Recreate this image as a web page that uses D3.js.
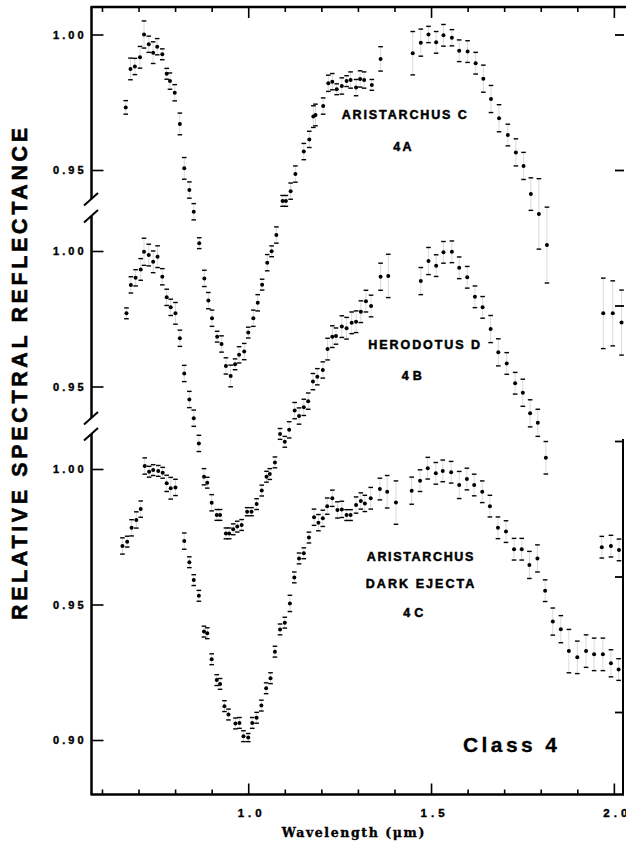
<!DOCTYPE html>
<html>
<head>
<meta charset="utf-8">
<script src="https://cdn.jsdelivr.net/npm/d3@7"></script>
<style>
  html, body { margin: 0; padding: 0; background: #fff; }
  svg { display: block; }
</style>
</head>
<body>
<svg id="chart" width="626" height="847"></svg>
<script>
// Relative spectral reflectance, class 4 spectra.
// Each row: [wavelength (µm), relative reflectance, 1-sigma error]
const aristarchusC = [
  [0.665, 0.9731, 0.0025], [0.678, 0.9873, 0.004], [0.690, 0.9882, 0.003], [0.704, 0.9916, 0.004],
  [0.715, 1.0000, 0.005], [0.728, 0.9964, 0.003], [0.740, 0.9933, 0.004], [0.751, 0.9955, 0.003],
  [0.765, 0.9927, 0.002], [0.777, 0.9855, 0.002], [0.786, 0.9828, 0.003], [0.799, 0.9785, 0.003],
  [0.813, 0.9670, 0.004], [0.825, 0.9506, 0.004], [0.839, 0.9426, 0.003], [0.851, 0.9346, 0.003],
  [0.866, 0.9230, 0.002], [0.880, 0.9100, 0.003], [0.891, 0.9018, 0.003], [0.901, 0.8953, 0.003],
  [0.915, 0.8885, 0.002], [0.927, 0.8858, 0.003], [0.939, 0.8777, 0.003], [0.952, 0.8740, 0.004],
  [0.964, 0.8783, 0.002], [0.975, 0.8818, 0.003], [0.989, 0.8830, 0.003], [1.000, 0.8900, 0.002],
  [1.014, 0.8953, 0.003], [1.026, 0.9010, 0.003], [1.038, 0.9077, 0.002], [1.052, 0.9158, 0.003],
  [1.064, 0.9200, 0.002], [1.077, 0.9260, 0.003], [1.094, 0.9386, 0.002], [1.103, 0.9386, 0.002],
  [1.116, 0.9422, 0.003], [1.129, 0.9485, 0.003], [1.152, 0.9568, 0.003], [1.167, 0.9613, 0.003],
  [1.178, 0.9697, 0.004], [1.184, 0.9703, 0.004], [1.205, 0.9736, 0.003], [1.219, 0.9820, 0.003],
  [1.230, 0.9826, 0.003], [1.242, 0.9798, 0.002], [1.256, 0.9810, 0.003], [1.269, 0.9828, 0.002],
  [1.280, 0.9832, 0.003], [1.295, 0.9804, 0.003], [1.306, 0.9836, 0.003], [1.317, 0.9832, 0.003],
  [1.338, 0.9814, 0.002], [1.362, 0.9910, 0.0045], [1.450, 0.9931, 0.008], [1.472, 0.9970, 0.005],
  [1.493, 1.0000, 0.003], [1.514, 0.9971, 0.004], [1.534, 0.9997, 0.004], [1.557, 0.9988, 0.003],
  [1.577, 0.9940, 0.004], [1.600, 0.9937, 0.004], [1.622, 0.9894, 0.004], [1.643, 0.9837, 0.005],
  [1.664, 0.9762, 0.005], [1.686, 0.9691, 0.005], [1.710, 0.9629, 0.004], [1.732, 0.9565, 0.005],
  [1.753, 0.9515, 0.005], [1.773, 0.9411, 0.006], [1.795, 0.9338, 0.013], [1.817, 0.9223, 0.014],
  [1.971, 0.8971, 0.013], [1.997, 0.8971, 0.012], [2.021, 0.8937, 0.012]
];

const herodotusD = [
  [0.667, 0.9770, 0.002], [0.679, 0.9875, 0.003], [0.692, 0.9901, 0.003], [0.706, 0.9932, 0.004],
  [0.715, 0.9997, 0.005], [0.728, 0.9985, 0.004], [0.740, 0.9960, 0.004], [0.752, 0.9979, 0.004],
  [0.765, 0.9905, 0.003], [0.777, 0.9829, 0.003], [0.788, 0.9792, 0.003], [0.801, 0.9770, 0.004],
  [0.813, 0.9678, 0.003], [0.825, 0.9548, 0.003], [0.839, 0.9452, 0.003], [0.851, 0.9383, 0.003],
  [0.865, 0.9290, 0.003], [0.879, 0.9167, 0.003], [0.888, 0.9145, 0.002], [0.900, 0.9071, 0.003],
  [0.914, 0.9026, 0.002], [0.923, 0.9026, 0.002], [0.939, 0.8958, 0.002], [0.948, 0.8958, 0.002],
  [0.959, 0.8973, 0.002], [0.970, 0.8983, 0.002], [0.982, 0.8989, 0.002], [0.997, 0.9038, 0.0015],
  [1.009, 0.9038, 0.0015], [1.023, 0.9066, 0.002], [1.037, 0.9116, 0.002], [1.050, 0.9167, 0.002],
  [1.059, 0.9177, 0.002], [1.073, 0.9220, 0.002], [1.087, 0.9325, 0.002], [1.100, 0.9296, 0.002],
  [1.112, 0.9340, 0.003], [1.127, 0.9411, 0.003], [1.139, 0.9391, 0.003], [1.152, 0.9423, 0.003],
  [1.164, 0.9446, 0.003], [1.177, 0.9518, 0.003], [1.189, 0.9536, 0.003], [1.204, 0.9561, 0.003],
  [1.217, 0.9638, 0.004], [1.230, 0.9684, 0.004], [1.240, 0.9686, 0.003], [1.256, 0.9721, 0.004],
  [1.269, 0.9715, 0.004], [1.283, 0.9735, 0.004], [1.295, 0.9739, 0.004], [1.308, 0.9776, 0.004],
  [1.322, 0.9815, 0.004], [1.336, 0.9797, 0.004], [1.362, 0.9905, 0.005], [1.383, 0.9908, 0.008],
  [1.472, 0.9889, 0.005], [1.493, 0.9963, 0.005], [1.514, 0.9946, 0.004], [1.534, 0.9995, 0.004],
  [1.557, 0.9997, 0.004], [1.577, 0.9938, 0.004], [1.599, 0.9903, 0.004], [1.620, 0.9831, 0.004],
  [1.641, 0.9792, 0.004], [1.663, 0.9712, 0.005], [1.684, 0.9626, 0.005], [1.707, 0.9585, 0.004],
  [1.730, 0.9512, 0.004], [1.751, 0.9477, 0.005], [1.771, 0.9401, 0.005], [1.792, 0.9366, 0.005],
  [1.814, 0.9237, 0.006], [1.967, 0.8907, 0.004], [1.992, 0.8911, 0.004], [2.014, 0.8897, 0.004]
];

const aristarchusDarkEjecta = [
  [0.656, 0.9716, 0.003], [0.669, 0.9732, 0.002], [0.681, 0.9783, 0.003], [0.694, 0.9812, 0.003],
  [0.706, 0.9852, 0.003], [0.717, 1.0011, 0.003], [0.729, 0.9990, 0.002], [0.740, 0.9996, 0.002],
  [0.754, 0.9993, 0.002], [0.766, 0.9986, 0.002], [0.777, 0.9947, 0.003], [0.788, 0.9929, 0.004],
  [0.801, 0.9932, 0.003], [0.825, 0.9734, 0.003], [0.839, 0.9656, 0.002], [0.851, 0.9590, 0.002],
  [0.865, 0.9532, 0.002], [0.879, 0.9400, 0.002], [0.888, 0.9394, 0.002], [0.900, 0.9298, 0.002],
  [0.914, 0.9221, 0.002], [0.923, 0.9207, 0.002], [0.935, 0.9125, 0.002], [0.946, 0.9094, 0.002],
  [0.965, 0.9061, 0.002], [0.976, 0.9063, 0.002], [0.987, 0.9014, 0.002], [1.000, 0.9009, 0.0015],
  [1.011, 0.9063, 0.002], [1.023, 0.9082, 0.002], [1.036, 0.9127, 0.002], [1.049, 0.9191, 0.002],
  [1.061, 0.9228, 0.002], [1.073, 0.9326, 0.002], [1.087, 0.9408, 0.002], [1.100, 0.9433, 0.002],
  [1.114, 0.9504, 0.003], [1.126, 0.9600, 0.002], [1.139, 0.9670, 0.002], [1.152, 0.9689, 0.002],
  [1.166, 0.9747, 0.002], [1.180, 0.9822, 0.003], [1.192, 0.9802, 0.003], [1.204, 0.9818, 0.003],
  [1.216, 0.9863, 0.003], [1.230, 0.9892, 0.003], [1.244, 0.9849, 0.003], [1.256, 0.9851, 0.003],
  [1.269, 0.9830, 0.002], [1.280, 0.9830, 0.002], [1.295, 0.9867, 0.003], [1.308, 0.9882, 0.003],
  [1.319, 0.9873, 0.003], [1.335, 0.9892, 0.004], [1.360, 0.9926, 0.004], [1.380, 0.9916, 0.006],
  [1.404, 0.9876, 0.008], [1.447, 0.9920, 0.005], [1.470, 0.9957, 0.004], [1.491, 1.0003, 0.004],
  [1.513, 0.9984, 0.004], [1.532, 0.9993, 0.004], [1.555, 0.9988, 0.004], [1.577, 0.9941, 0.005],
  [1.598, 0.9963, 0.004], [1.618, 0.9941, 0.004], [1.640, 0.9916, 0.004], [1.661, 0.9863, 0.004],
  [1.683, 0.9783, 0.004], [1.705, 0.9769, 0.004], [1.727, 0.9704, 0.004], [1.748, 0.9704, 0.004],
  [1.769, 0.9646, 0.005], [1.791, 0.9670, 0.005], [1.812, 0.9551, 0.004], [1.833, 0.9437, 0.005],
  [1.855, 0.9409, 0.005], [1.877, 0.9328, 0.008], [1.900, 0.9305, 0.006], [1.924, 0.9328, 0.006],
  [1.946, 0.9316, 0.006], [1.970, 0.9316, 0.006], [1.992, 0.9283, 0.005], [2.013, 0.9260, 0.004]
];

const xMajorTicks = [1.0, 1.5, 2.0];
const xMinorTicks = [0.6, 0.7, 0.8, 0.9, 1.1, 1.2, 1.3, 1.4, 1.6, 1.7, 1.8, 1.9];
const yTickSteps = [1.02, 1.01, 1.00, 0.99, 0.98, 0.97, 0.96, 0.95, 0.94, 0.93, 0.92, 0.91,
                    0.90, 0.89, 0.88, 0.87, 0.86, 0.85, 0.84, 0.83, 0.82, 0.81, 0.80,
                    0.79, 0.78, 0.77, 0.76, 0.75, 0.74, 0.73];
const labelsA = ["1.00", "0.95"];
const labelsB = ["1.00", "0.95"];
const labelsC = ["1.00", "0.95", "0.90"];

// ---- layout ----
const svg = d3.select("#chart");
const frameL = 91.5, frameR = 623, frameT = 7, frameB = 794.5;
const sans = "'Liberation Sans', Arial, Helvetica, sans-serif";

const x = d3.scaleLinear().domain([0.57, 2.025]).range([91, 623]);

// one reflectance scale per stacked spectrum, all with the same units per pixel
const stacked = y100 => d3.scaleLinear().domain([1.0, 0.9]).range([y100, y100 + 271]);
const yA = stacked(34.5), yB = stacked(251), yC = stacked(469);

const panels = [
  { data: aristarchusC, y: yA, seg: [frameT, 199], labels: labelsA },
  { data: herodotusD, y: yB, seg: [216, 418], labels: labelsB },
  { data: aristarchusDarkEjecta, y: yC, seg: [434, frameB], labels: labelsC }
];

const isMajor = v => Math.round(v * 100) % 5 === 0;

// ---- frame ----
const frame = svg.append("g").attr("stroke", "#000").attr("fill", "none");
frame.append("line").attr("x1", frameL - 1).attr("x2", 626).attr("y1", frameT).attr("y2", frameT).attr("stroke-width", 2.5);
frame.append("line").attr("x1", frameL - 1).attr("x2", frameR + 1).attr("y1", frameB).attr("y2", frameB).attr("stroke-width", 2.5);
frame.append("line").attr("x1", frameR).attr("x2", frameR).attr("y1", 439).attr("y2", frameB).attr("stroke-width", 2);

// bottom axis ticks (pointing up) and top axis ticks (pointing down)
const drawXTicks = (vals, size) => {
  svg.append("g").attr("transform", `translate(0,${frameB})`)
    .call(d3.axisTop(x).tickValues(vals).tickSize(size).tickFormat(""))
    .call(g => g.select(".domain").remove())
    .call(g => g.selectAll("line").attr("stroke-width", 1.6));
  svg.append("g").attr("transform", `translate(0,${frameT})`)
    .call(d3.axisBottom(x).tickValues(vals).tickSize(size).tickFormat(""))
    .call(g => g.select(".domain").remove())
    .call(g => g.selectAll("line").attr("stroke-width", 1.6));
};
drawXTicks(xMinorTicks, 5);
drawXTicks(xMajorTicks, 11);

// x tick labels
svg.append("g").selectAll("text").data(xMajorTicks).join("text")
  .attr("x", d => x(d) + 1.5).attr("y", 816.5)
  .attr("text-anchor", "middle")
  .attr("font-family", sans).attr("font-weight", "bold").attr("font-size", 11.5)
  .attr("stroke", "#000").attr("stroke-width", 0.4)
  .attr("textLength", 24).attr("lengthAdjust", "spacing")
  .text(d => d3.format(".1f")(d));

// left axis: one segment per spectrum with its own ticks
panels.forEach(p => {
  const [s0, s1] = p.seg;
  svg.append("line").attr("x1", frameL).attr("x2", frameL).attr("y1", s0).attr("y2", s1)
    .attr("stroke", "#000").attr("stroke-width", 2.5);
  const inSeg = yTickSteps.filter(v => p.y(v) >= s0 + 3 && p.y(v) <= s1 - 1);
  const g = svg.append("g").attr("transform", `translate(${frameL},0)`);
  g.call(d3.axisRight(p.y).tickValues(inSeg.filter(v => !isMajor(v))).tickSize(6).tickFormat(""));
  g.call(d3.axisRight(p.y).tickValues(inSeg.filter(isMajor)).tickSize(12).tickFormat(""));
  g.selectAll(".domain").remove();
  g.selectAll("line").attr("stroke-width", 1.6);
  svg.append("g").selectAll("text").data(p.labels).join("text")
    .attr("x", 83.5).attr("y", d => p.y(+d) + 4)
    .attr("text-anchor", "end")
    .attr("font-family", sans).attr("font-weight", "bold").attr("font-size", 11)
    .attr("stroke", "#000").attr("stroke-width", 0.4)
    .attr("textLength", 30.5).attr("lengthAdjust", "spacing")
    .text(d => d);
});

// axis breaks
[199, 216, 418, 434].forEach(yb => {
  svg.append("line").attr("x1", frameL - 7.5).attr("y1", yb + 6.5)
    .attr("x2", frameL + 6.5).attr("y2", yb - 6)
    .attr("stroke", "#000").attr("stroke-width", 2);
});

// right axis ticks follow the top spectrum's scale (pointing inward)
{
  const vals = yTickSteps.filter(v => yA(v) > frameT + 10 && yA(v) < frameB - 5);
  const g = svg.append("g").attr("transform", `translate(624,0)`);
  g.call(d3.axisLeft(yA).tickValues(vals.filter(v => !isMajor(v))).tickSize(4).tickFormat(""));
  g.call(d3.axisLeft(yA).tickValues(vals.filter(isMajor)).tickSize(9).tickFormat(""));
  g.selectAll(".domain").remove();
  g.selectAll("line").attr("stroke-width", 1.8);
}

// ---- spectra: points with error bars ----
panels.forEach(p => {
  const g = svg.append("g");
  const pts = g.selectAll("g.pt").data(p.data).join("g").attr("class", "pt");
  pts.append("line")
    .attr("x1", d => x(d[0])).attr("x2", d => x(d[0]))
    .attr("y1", d => p.y(d[1] + d[2])).attr("y2", d => p.y(d[1] - d[2]))
    .attr("stroke", "#000").attr("stroke-width", 0.5).attr("stroke-opacity", 0.3);
  [1, -1].forEach(s => {
    pts.append("line")
      .attr("x1", d => x(d[0]) - 2.3).attr("x2", d => x(d[0]) + 2.3)
      .attr("y1", d => p.y(d[1] + s * d[2])).attr("y2", d => p.y(d[1] + s * d[2]))
      .attr("stroke", "#000").attr("stroke-width", 1.4);
  });
  pts.append("circle")
    .attr("cx", d => x(d[0])).attr("cy", d => p.y(d[1])).attr("r", 2)
    .attr("fill", "#000");
});

// ---- text ----
const label = (txt, xPos, yPos, size, len, opts = {}) =>
  svg.append("text").attr("x", xPos).attr("y", yPos)
    .attr("font-family", opts.family || sans).attr("font-weight", "bold")
    .attr("font-size", size).attr("text-anchor", opts.anchor || "start")
    .attr("stroke", "#000").attr("stroke-width", opts.stroke == null ? 0.5 : opts.stroke)
    .attr("textLength", len).attr("lengthAdjust", "spacing")
    .text(txt);

label("ARISTARCHUS C", 341.7, 119, 12.5, 125);
label("4A", 393.3, 151, 12.5, 18.3);
label("HERODOTUS D", 368.3, 348.5, 12.5, 111.7);
label("4B", 401.7, 380, 12.5, 20);
label("ARISTARCHUS", 366.7, 560.7, 12.5, 106.7);
label("DARK EJECTA", 365.7, 588, 12.5, 108.7);
label("4C", 403.3, 617.3, 12.5, 20);
label("Class 4", 463, 751.7, 21, 94, { stroke: 0.3 });

label("Wavelength (μm)", 281.7, 837.3, 12.5, 142.6, { family: "'DejaVu Serif', serif", stroke: 0.35 });

svg.append("text")
  .attr("transform", "translate(27.3,374) rotate(-90)")
  .attr("text-anchor", "middle")
  .attr("font-family", sans).attr("font-weight", "bold").attr("font-size", 21.4)
  .attr("stroke", "#000").attr("stroke-width", 0.6)
  .attr("textLength", 492).attr("lengthAdjust", "spacing")
  .text("RELATIVE SPECTRAL REFLECTANCE");
</script>
</body>
</html>
